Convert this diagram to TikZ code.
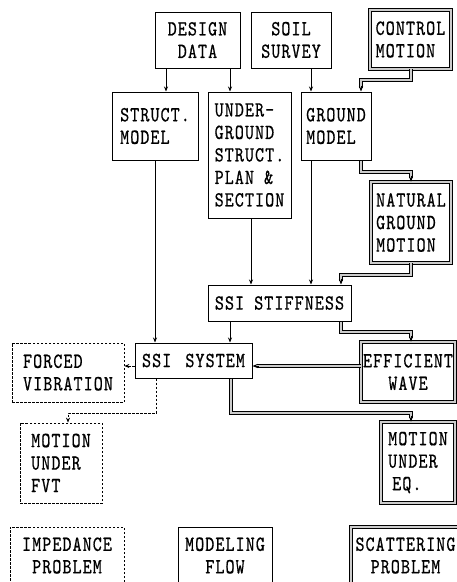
\documentclass[tikz,border=0pt]{standalone}
\usepackage{fontspec}
\newfontfamily\diagfont[FakeStretch=0.8,FakeBold=0.6,LetterSpace=5]{lmmono10-regular.otf}
\usetikzlibrary{arrows.meta,calc}
\begin{document}
\begin{tikzpicture}[x=1pt,y=-1pt,
 txt/.style={font=\diagfont\fontsize{21.5}{22.5}\selectfont, inner sep=0pt},
 box/.style={txt, draw, line width=1pt},
 dbox/.style={txt, draw, line width=0.7pt, double=gray!40, double distance=2pt},
 dashbox/.style={txt, draw, line width=0.8pt, dash pattern=on 2.5pt off 1.5pt},
 arr/.style={line width=0.8pt, -{Stealth[length=5pt,width=4pt]}},
 darr/.style={arr, dash pattern=on 2.5pt off 1.5pt},
 dbl/.style={line width=0.6pt, double=gray!40, double distance=2pt, shorten >=4pt},
 tip/.style={line width=0.8pt, -{Stealth[length=5pt,width=4pt]}}
]
\useasboundingbox (0,0) rectangle (457,582);
\clip (0,0) rectangle (457,582);

% nodes
\node[box, minimum width=85pt, minimum height=56pt, align=center] (dd) at (197.5,40) {DESIGN\\DATA};
\node[box, minimum width=80pt, minimum height=56pt, align=center] (ss) at (291,40) {SOIL\\SURVEY};
\node[dbox, minimum width=81pt, minimum height=59pt, align=left] (cm) at (410.5,39.5) {CONTROL\\MOTION};
\node[box, minimum width=86pt, minimum height=68pt, align=left] (sm) at (155,126) {STRUCT.\\MODEL};
\node[box, minimum width=83pt, minimum height=126pt, align=left] (ug) at (249.5,155) {UNDER-\\GROUND\\STRUCT.\\PLAN \&\\SECTION};
\node[box, minimum width=70pt, minimum height=68pt, align=left] (gm) at (336,126) {GROUND\\MODEL};
\node[dbox, minimum width=80pt, minimum height=81pt, align=left] (ngm) at (411,222.5) {NATURAL\\GROUND\\MOTION};
\node[box, minimum width=143pt, minimum height=36pt] (sst) at (279.5,303) {SSI STIFFNESS};
\node[box, minimum width=117pt, minimum height=35pt] (sys) at (193.5,360.5) {SSI\hspace{4pt} SYSTEM};
\node[dashbox, minimum width=112pt, minimum height=59pt, align=left] (fv) at (68,372.5) {FORCED\\VIBRATION};
\node[dbox, minimum width=94pt, minimum height=60pt, align=center] (ew) at (408,372) {EFFICIENT\\WAVE};
\node[dashbox, minimum width=82pt, minimum height=80pt, align=left] (fvt) at (61,463) {MOTION\\UNDER\\FVT};
\node[dbox, minimum width=74pt, minimum height=81pt, align=left] (eq) at (418,462.5) {MOTION\\UNDER\\\hspace{4pt}EQ.};
\node[dashbox, minimum width=114pt, minimum height=57pt, align=center] (imp) at (67,555.5) {IMPEDANCE\\PROBLEM};
\node[box, minimum width=94pt, minimum height=57pt, align=center] (mf) at (225,555.5) {MODELING\\FLOW};
\node[dbox, minimum width=109pt, minimum height=57pt, align=center] (sp) at (405.5,555.5) {SCATTERING\\PROBLEM};

% lanes
\coordinate (l166) at (166,0);
\coordinate (l230) at (230,0);
\coordinate (l311) at (311,0);
\coordinate (l251) at (251,0);
\coordinate (l361) at (361,0);
\coordinate (l411) at (411,0);
\coordinate (l341) at (341,0);
\coordinate (l156) at (156,0);
\coordinate (l68) at (68,0);
\coordinate (l231) at (231,0);
\coordinate (y366) at (0,366);

% single connectors
\draw[arr] (l166 |- dd.south) -- (l166 |- sm.north);
\draw[arr] (l230 |- dd.south) -- (l230 |- ug.north);
\draw[arr] (l311 |- ss.south) -- (l311 |- gm.north);
\draw[arr] (l251 |- ug.south) -- (l251 |- sst.north);
\draw[arr] (l311 |- gm.south) -- (l311 |- sst.north);
\draw[arr] (sm.south) -- (sm.south |- sys.north);
\draw[arr] (l230 |- sst.south) -- (l230 |- sys.north);
\draw[darr] (sys.west |- y366) -- (fv.east |- y366);
\draw[darr] (l156 |- sys.south) -- (156,413) -- (68,413) -- (l68 |- fvt.north);

% double connectors
\coordinate (t1) at (l361 |- gm.north);
\draw[dbl] (l411 |- cm.south) -- (411,80) -- (361,80) -- (t1);
\draw[tip] ($(t1)+(0,-6)$) -- (t1);
\coordinate (t2) at (l411 |- ngm.north);
\draw[dbl] (l361 |- gm.south) -- (361,172) -- (411,172) -- (t2);
\draw[tip] ($(t2)+(0,-6)$) -- (t2);
\coordinate (t3) at (l341 |- sst.north);
\draw[dbl] (l411 |- ngm.south) -- (411,275) -- (341,275) -- (t3);
\draw[tip] ($(t3)+(0,-6)$) -- (t3);
\coordinate (t4) at (l411 |- ew.north);
\draw[dbl] (l341 |- sst.south) -- (341,332) -- (411,332) -- (t4);
\draw[tip] ($(t4)+(0,-6)$) -- (t4);
\coordinate (t5) at (sys.east |- y366);
\draw[dbl] (ew.west |- y366) -- (t5);
\draw[tip] ($(t5)+(6,0)$) -- (t5);
\coordinate (t6) at (l411 |- eq.north);
\draw[dbl] (l231 |- sys.south) -- (231,413) -- (411,413) -- (t6);
\draw[tip] ($(t6)+(0,-6)$) -- (t6);
\end{tikzpicture}
\end{document}
